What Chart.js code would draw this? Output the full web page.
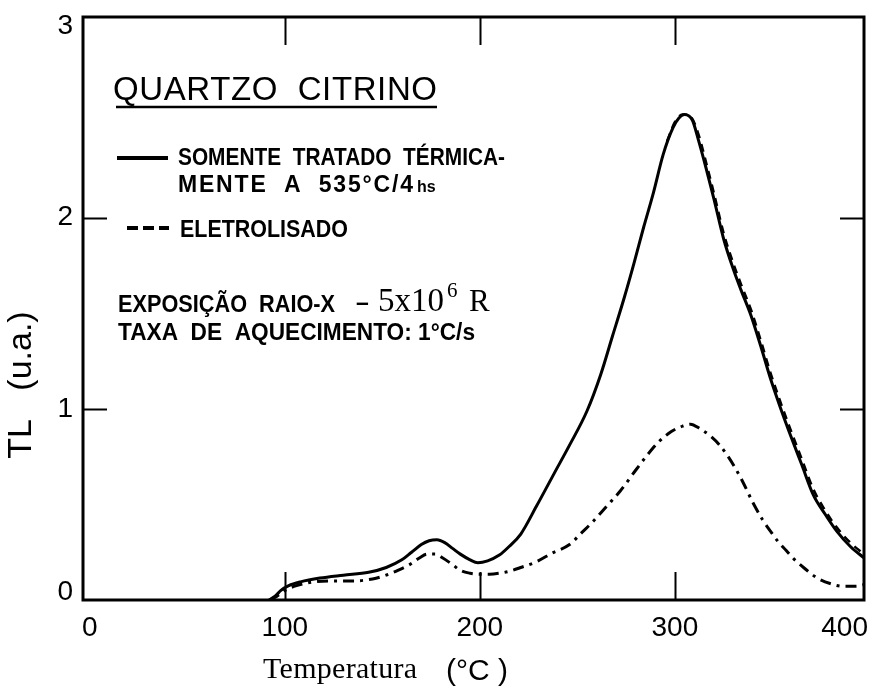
<!DOCTYPE html>
<html>
<head>
<meta charset="utf-8">
<script src="https://cdn.jsdelivr.net/npm/chart.js@4.4.0/dist/chart.umd.min.js"></script>
<style>
  html, body { margin: 0; padding: 0; background: #fff; }
  #wrap { width: 878px; height: 688px; }
</style>
</head>
<body>
<div id="wrap"><canvas id="tlChart" width="878" height="688"></canvas></div>
<script>
// curva TL - somente tratado termicamente (linha cheia)
const tempSolid = [92, 95, 98, 102, 108, 118, 130, 143, 152, 160, 165, 170, 174, 178, 182, 186, 190, 195, 199, 204, 210, 215, 221, 229, 238, 246, 255, 262, 268, 274, 279, 284, 289, 294, 299, 302, 305, 309, 312, 316, 320, 325, 330, 334, 339, 344, 349, 354, 359, 365, 371, 377, 383, 390, 397];
const tlSolid = [0, 0.02, 0.05, 0.075, 0.095, 0.115, 0.13, 0.145, 0.17, 0.21, 0.25, 0.29, 0.31, 0.315, 0.3, 0.27, 0.24, 0.21, 0.195, 0.205, 0.235, 0.28, 0.345, 0.49, 0.66, 0.81, 0.99, 1.18, 1.38, 1.58, 1.76, 1.95, 2.13, 2.33, 2.47, 2.52, 2.54, 2.51, 2.41, 2.26, 2.1, 1.89, 1.73, 1.62, 1.49, 1.33, 1.16, 1.01, 0.87, 0.71, 0.55, 0.45, 0.36, 0.28, 0.22];

// tracejado sobre o pico principal
const tempDashed = [296, 300, 304, 308, 312, 316, 320, 325, 330, 334, 339, 344, 349, 354, 359, 365, 371, 377, 383, 390, 397];
const tlDashed = [2.4, 2.5, 2.54, 2.53, 2.44, 2.29, 2.13, 1.92, 1.76, 1.65, 1.52, 1.36, 1.19, 1.04, 0.9, 0.74, 0.58, 0.47, 0.38, 0.3, 0.24];

// eletrolisado (traço-ponto)
const tempElet = [92, 96, 100, 106, 115, 125, 135, 145, 152, 158, 164, 169, 173, 177, 181, 186, 190, 195, 200, 205, 210, 215, 221, 229, 237, 246, 252, 258, 265, 272, 280, 286, 292, 298, 304, 308, 313, 318, 323, 327, 331, 335, 340, 345, 349, 353, 357, 361, 366, 373, 380, 386, 393, 397];
const tlElet = [0, 0.02, 0.05, 0.075, 0.095, 0.1, 0.1, 0.11, 0.13, 0.155, 0.185, 0.22, 0.24, 0.24, 0.22, 0.185, 0.155, 0.14, 0.135, 0.135, 0.14, 0.15, 0.17, 0.2, 0.245, 0.29, 0.35, 0.41, 0.49, 0.57, 0.68, 0.76, 0.83, 0.88, 0.91, 0.92, 0.895, 0.86, 0.81, 0.755, 0.69, 0.615, 0.51, 0.42, 0.36, 0.305, 0.26, 0.215, 0.17, 0.115, 0.085, 0.072, 0.072, 0.08];

const xTicks = [0, 100, 200, 300, 400];
const yTicks = [0, 1, 2, 3];

function pts(xs, ys) {
  return xs.map((x, i) => ({ x: x, y: ys[i] }));
}

const SANS = '"Liberation Sans", Arial, sans-serif';
const SERIF = '"Liberation Serif", "Times New Roman", serif';

// escreve o texto ocupando a largura w (espaça ou comprime)
function fitText(ctx, s, x, y, w) {
  ctx.letterSpacing = '0px';
  const nat = ctx.measureText(s).width;
  if (nat >= w || !('letterSpacing' in ctx)) {
    ctx.fillText(s, x, y, w);
  } else {
    ctx.letterSpacing = ((w - nat) / Math.max(1, s.length - 1)).toFixed(2) + 'px';
    ctx.fillText(s, x, y);
    ctx.letterSpacing = '0px';
  }
}

// moldura, marcas internas, rótulos e textos
const frameAndText = {
  id: 'frameAndText',
  afterDatasetsDraw(chart) {
    const ctx = chart.ctx;
    const a = chart.chartArea;
    const xs = chart.scales.x, ys = chart.scales.y;
    ctx.save();
    ctx.strokeStyle = '#000';
    ctx.fillStyle = '#000';
    ctx.lineCap = 'butt';

    // moldura
    ctx.lineWidth = 3;
    ctx.strokeRect(a.left, a.top, a.right - a.left, a.bottom - a.top);

    // marcas para dentro
    ctx.lineWidth = 2;
    xTicks.slice(1, -1).forEach(v => {
      const px = Math.round(xs.getPixelForValue(v)) + 0.5;
      ctx.beginPath();
      ctx.moveTo(px, a.bottom); ctx.lineTo(px, a.bottom - 28);
      ctx.moveTo(px, a.top); ctx.lineTo(px, a.top + 28);
      ctx.stroke();
    });
    yTicks.slice(1, -1).forEach(v => {
      const py = Math.round(ys.getPixelForValue(v)) + 0.5;
      ctx.beginPath();
      ctx.moveTo(a.left, py); ctx.lineTo(a.left + 24, py);
      ctx.moveTo(a.right, py); ctx.lineTo(a.right - 24, py);
      ctx.stroke();
    });

    // rótulos dos eixos
    ctx.font = '28px ' + SANS;
    ctx.textBaseline = 'middle';
    xTicks.forEach(v => {
      let px = xs.getPixelForValue(Math.min(v, xs.max));
      ctx.textAlign = 'center';
      if (v >= xs.max) { ctx.textAlign = 'right'; px = a.right + 4; }
      ctx.fillText(String(v), px, a.bottom + 28);
    });
    ctx.textAlign = 'right';
    yTicks.forEach(v => {
      const py = Math.min(ys.getPixelForValue(v), a.bottom - 8);
      ctx.fillText(String(v), 73, py);
    });

    // título do eixo y
    ctx.save();
    ctx.translate(22, 385);
    ctx.rotate(-Math.PI / 2);
    ctx.textAlign = 'center';
    ctx.font = '34px ' + SANS;
    ctx.fillText('TL   (u.a.)', 0, 0);
    ctx.restore();

    // título do eixo x
    ctx.textBaseline = 'alphabetic';
    ctx.textAlign = 'left';
    ctx.font = '30px ' + SERIF;
    fitText(ctx, 'Temperatura', 263, 678, 154);
    ctx.font = '30px ' + SANS;
    ctx.fillText('(°C )', 446, 680);

    // título interno
    ctx.font = '33px ' + SANS;
    fitText(ctx, 'QUARTZO  CITRINO', 113, 100, 324);
    ctx.lineWidth = 2.5;
    ctx.beginPath();
    ctx.moveTo(116, 107); ctx.lineTo(437, 107);
    ctx.stroke();

    // legenda
    ctx.lineWidth = 4;
    ctx.beginPath();
    ctx.moveTo(117, 158); ctx.lineTo(168, 158);
    ctx.stroke();
    ctx.setLineDash([11, 5]);
    ctx.beginPath();
    ctx.moveTo(127, 228); ctx.lineTo(169, 228);
    ctx.stroke();
    ctx.setLineDash([]);

    ctx.font = 'bold 23px ' + SANS;
    fitText(ctx, 'SOMENTE  TRATADO  TÉRMICA-', 178, 165, 327);
    fitText(ctx, 'MENTE  A  535°C/4', 178, 192, 235);
    ctx.font = 'bold 16px ' + SANS;
    ctx.fillText('hs', 417, 192);
    ctx.font = 'bold 23px ' + SANS;
    fitText(ctx, 'ELETROLISADO', 180, 237, 168);

    fitText(ctx, 'EXPOSIÇÃO  RAIO-X', 118, 312, 217);
    ctx.fillText('–', 356, 310);
    ctx.font = '33px ' + SERIF;
    ctx.fillText('5x10', 378, 311);
    ctx.font = '21px ' + SERIF;
    ctx.fillText('6', 447, 297);
    ctx.font = '31px ' + SERIF;
    ctx.fillText('R', 469, 311);
    ctx.font = 'bold 23px ' + SANS;
    fitText(ctx, 'TAXA  DE  AQUECIMENTO: 1°C/s', 118, 340, 357);

    ctx.restore();
  }
};

new Chart(document.getElementById('tlChart').getContext('2d'), {
  type: 'line',
  data: {
    datasets: [{
      label: 'SOMENTE TRATADO TÉRMICAMENTE A 535°C/4hs',
      data: pts(tempSolid, tlSolid),
      borderColor: '#000',
      borderWidth: 3,
      pointRadius: 0,
      cubicInterpolationMode: 'monotone',
      fill: false
    }, {
      label: 'ELETROLISADO',
      data: pts(tempDashed, tlDashed),
      borderColor: '#000',
      borderWidth: 2.5,
      borderDash: [8, 6],
      pointRadius: 0,
      cubicInterpolationMode: 'monotone',
      fill: false
    }, {
      label: 'ELETROLISADO',
      data: pts(tempElet, tlElet),
      borderColor: '#000',
      borderWidth: 3,
      borderDash: [11, 6, 3, 6],
      pointRadius: 0,
      cubicInterpolationMode: 'monotone',
      fill: false
    }]
  },
  options: {
    responsive: false,
    animation: false,
    layout: { padding: { left: 83, right: 14, top: 17, bottom: 88 } },
    plugins: { legend: { display: false }, tooltip: { enabled: false } },
    scales: {
      x: { type: 'linear', min: -3.5, max: 397, display: false },
      y: { type: 'linear', min: 0, max: 3.05, display: false }
    }
  },
  plugins: [frameAndText]
});
</script>
</body>
</html>
